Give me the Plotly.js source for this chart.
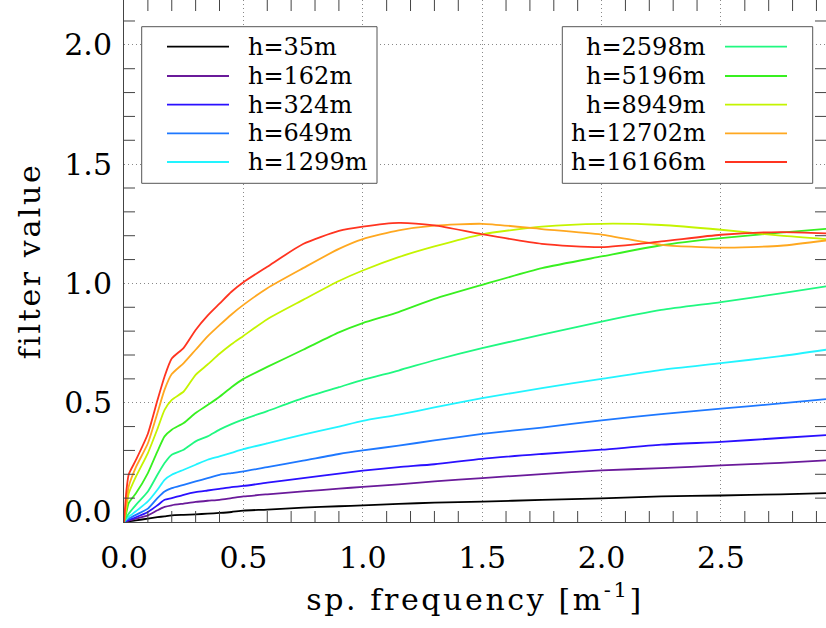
<!DOCTYPE html>
<html>
<head>
<meta charset="utf-8">
<script src="https://cdn.plot.ly/plotly-3.0.1.min.js"></script>
<style>
html,body{margin:0;padding:0;background:#fff;}
#chart{width:826px;height:628px;}
.xtitle,.ytitle{letter-spacing:2.6px;}
</style>
</head>
<body>
<div id="chart"></div>
<script>
// spatial frequency [m^-1]
const freq = [0, 0.01, 0.02, 0.05, 0.1, 0.14, 0.17, 0.2, 0.25, 0.3, 0.35, 0.4, 0.45, 0.5, 0.6, 0.75, 0.9, 1.0, 1.15, 1.3, 1.5, 1.75, 2.0, 2.25, 2.5, 2.75, 2.94];

const labels = ['h=35m', 'h=162m', 'h=324m', 'h=649m', 'h=1299m', 'h=2598m', 'h=5196m', 'h=8949m', 'h=12702m', 'h=16166m'];
const colors = ['#000000', '#6a1a9a', '#2a10ff', '#1e78ff', '#22f4ff', '#20f880', '#38f020', '#c4f400', '#ffa820', '#ff3420'];

const yTickVals = [0.5, 1.0, 1.5, 2.0];
const yTickText = ['0.5', '1.0', '1.5', '2.0'];
const yZeroLabel = '0.0';

const h35    = [0, 0.002, 0.003, 0.007, 0.014, 0.02, 0.024, 0.028, 0.03, 0.032, 0.035, 0.038, 0.042, 0.048, 0.052, 0.06, 0.066, 0.07, 0.076, 0.081, 0.085, 0.093, 0.099, 0.107, 0.111, 0.116, 0.121];
const h162   = [0, 0.003, 0.006, 0.014, 0.028, 0.049, 0.063, 0.07, 0.077, 0.084, 0.089, 0.093, 0.1, 0.107, 0.116, 0.128, 0.14, 0.147, 0.158, 0.17, 0.184, 0.201, 0.216, 0.226, 0.237, 0.248, 0.258];
const h324   = [0, 0.005, 0.009, 0.02, 0.042, 0.07, 0.093, 0.10, 0.114, 0.125, 0.132, 0.139, 0.146, 0.151, 0.165, 0.184, 0.203, 0.215, 0.23, 0.242, 0.265, 0.285, 0.303, 0.324, 0.336, 0.352, 0.364];
const h649   = [0, 0.008, 0.014, 0.03, 0.056, 0.10, 0.128, 0.142, 0.156, 0.17, 0.184, 0.198, 0.205, 0.212, 0.23, 0.257, 0.285, 0.30, 0.32, 0.342, 0.369, 0.396, 0.426, 0.452, 0.475, 0.497, 0.515];
const h1299  = [0, 0.012, 0.022, 0.045, 0.086, 0.135, 0.177, 0.198, 0.219, 0.24, 0.261, 0.275, 0.29, 0.305, 0.33, 0.366, 0.40, 0.424, 0.45, 0.48, 0.519, 0.561, 0.60, 0.638, 0.666, 0.695, 0.722];
const h2598  = [0, 0.02, 0.035, 0.072, 0.128, 0.198, 0.247, 0.282, 0.303, 0.338, 0.359, 0.387, 0.41, 0.43, 0.465, 0.519, 0.565, 0.596, 0.635, 0.678, 0.729, 0.785, 0.84, 0.889, 0.922, 0.958, 0.988];
const h5196  = [0, 0.04, 0.08, 0.12, 0.205, 0.296, 0.359, 0.387, 0.415, 0.457, 0.49, 0.525, 0.565, 0.60, 0.65, 0.722, 0.795, 0.834, 0.88, 0.935, 0.994, 1.064, 1.113, 1.16, 1.19, 1.213, 1.229];
const h8949  = [0, 0.06, 0.12, 0.19, 0.289, 0.39, 0.47, 0.512, 0.547, 0.617, 0.66, 0.705, 0.745, 0.78, 0.85, 0.931, 1.01, 1.054, 1.11, 1.155, 1.206, 1.238, 1.25, 1.245, 1.225, 1.2, 1.186];
const h12702 = [0, 0.08, 0.15, 0.23, 0.33, 0.457, 0.555, 0.62, 0.666, 0.722, 0.778, 0.825, 0.87, 0.91, 0.98, 1.064, 1.145, 1.186, 1.222, 1.242, 1.25, 1.228, 1.205, 1.162, 1.15, 1.158, 1.18];
const h16166 = [0, 0.13, 0.2, 0.26, 0.37, 0.51, 0.61, 0.685, 0.73, 0.805, 0.865, 0.915, 0.965, 1.005, 1.07, 1.165, 1.22, 1.238, 1.254, 1.243, 1.206, 1.166, 1.152, 1.176, 1.204, 1.215, 1.21];

const series = [h35, h162, h324, h649, h1299, h2598, h5196, h8949, h12702, h16166];

const X_MAX = 2.94, Y_MAX = 2.188;

const traces = series.map((ys, i) => ({
  x: freq, y: ys, type: 'scatter', mode: 'lines', name: labels[i],
  line: {color: colors[i], width: 1.8, shape: 'spline', smoothing: 0.6},
  showlegend: false, hoverinfo: 'skip'
}));

// minor tick positions every 0.1 (the 0.5 majors carry only grid dots)
function minorVals(max) {
  const v = [];
  for (let k = 1; k * 0.1 <= max + 1e-9; k++) { if (k % 5 !== 0) v.push(+(k * 0.1).toFixed(1)); }
  return v;
}

// plot-area geometry in pixels (for legend boxes)
const L = 124, R = 826, T = 0, B = 522;
const px = x => (x - L) / (R - L);
const py = y => (B - y) / (B - T);

const FONT = 'DejaVu Serif';
const TICK = '#444', TICKLEN = 11;
const shapes = [];
const annotations = [];

// inside ticks on all four sides, placed through the axes' own scales
minorVals(X_MAX).forEach(v => {
  shapes.push({type: 'line', xref: 'x', yref: 'paper', ysizemode: 'pixel', yanchor: 0, x0: v, x1: v, y0: 0, y1: TICKLEN, line: {color: TICK, width: 1}});
  shapes.push({type: 'line', xref: 'x', yref: 'paper', ysizemode: 'pixel', yanchor: 1, x0: v, x1: v, y0: 0, y1: -TICKLEN, line: {color: TICK, width: 1}});
});
minorVals(Y_MAX).forEach(v => {
  shapes.push({type: 'line', xref: 'paper', yref: 'y', xsizemode: 'pixel', xanchor: 0, y0: v, y1: v, x0: 0, x1: TICKLEN, line: {color: TICK, width: 1}});
  shapes.push({type: 'line', xref: 'paper', yref: 'y', xsizemode: 'pixel', xanchor: 1, y0: v, y1: v, x0: 0, x1: -TICKLEN, line: {color: TICK, width: 1}});
});

const rowY = [46.7, 76, 104.7, 133.3, 162];

shapes.push({type: 'rect', xref: 'paper', yref: 'paper', x0: px(141.7), x1: px(377), y0: py(183.3), y1: py(26.7),
  line: {color: '#555', width: 1}, fillcolor: '#fff', layer: 'above'});
shapes.push({type: 'rect', xref: 'paper', yref: 'paper', x0: px(562.3), x1: px(812.7), y0: py(183.3), y1: py(26.7),
  line: {color: '#555', width: 1}, fillcolor: '#fff', layer: 'above'});

for (let i = 0; i < 5; i++) {
  shapes.push({type: 'line', xref: 'paper', yref: 'paper', x0: px(167), x1: px(229), y0: py(rowY[i]), y1: py(rowY[i]),
    line: {color: colors[i], width: 1.8}, layer: 'above'});
  annotations.push({xref: 'paper', yref: 'paper', x: px(246), y: py(rowY[i]), xanchor: 'left', yanchor: 'middle',
    text: labels[i], showarrow: false, font: {family: FONT, size: 24, color: '#000'}});
}
for (let i = 0; i < 5; i++) {
  const k = i + 5;
  shapes.push({type: 'line', xref: 'paper', yref: 'paper', x0: px(725), x1: px(787), y0: py(rowY[i]), y1: py(rowY[i]),
    line: {color: colors[k], width: 1.8}, layer: 'above'});
  annotations.push({xref: 'paper', yref: 'paper', x: px(708), y: py(rowY[i]), xanchor: 'right', yanchor: 'middle',
    text: labels[k], showarrow: false, font: {family: FONT, size: 24, color: '#000'}});
}

annotations.push({xref: 'paper', yref: 'paper', x: px(114), y: py(511.5), xanchor: 'right', yanchor: 'middle',
  text: yZeroLabel, showarrow: false, font: {family: FONT, size: 30, color: '#000'}});

const axisCommon = {
  showline: true, linecolor: '#444', linewidth: 1, mirror: false,
  ticks: '', showgrid: true, gridcolor: '#888', griddash: '1px,3px', gridwidth: 1,
  zeroline: false, tickfont: {family: FONT, size: 30, color: '#000'},
  tickformat: '.1f', dtick: 0.5, tick0: 0
};

const layout = {
  width: 826, height: 628,
  margin: {l: L, r: 0, t: 0, b: 628 - B},
  paper_bgcolor: '#fff', plot_bgcolor: '#fff',
  showlegend: false,
  xaxis: Object.assign({}, axisCommon, {
    range: [0, X_MAX],
    ticklabelstandoff: 9,
    title: {text: 'sp. frequency [m<sup>-1</sup>]', font: {family: FONT, size: 30, color: '#000'}, standoff: 14}
  }),
  yaxis: Object.assign({}, axisCommon, {
    range: [0, Y_MAX],
    tickmode: 'array', tickvals: yTickVals, ticktext: yTickText,
    ticklabelstandoff: 5,
    title: {text: 'filter value', font: {family: FONT, size: 30, color: '#000'}, standoff: 14}
  }),
  shapes: shapes,
  annotations: annotations
};

Plotly.newPlot('chart', traces, layout, {displayModeBar: false, staticPlot: true});
</script>
</body>
</html>
